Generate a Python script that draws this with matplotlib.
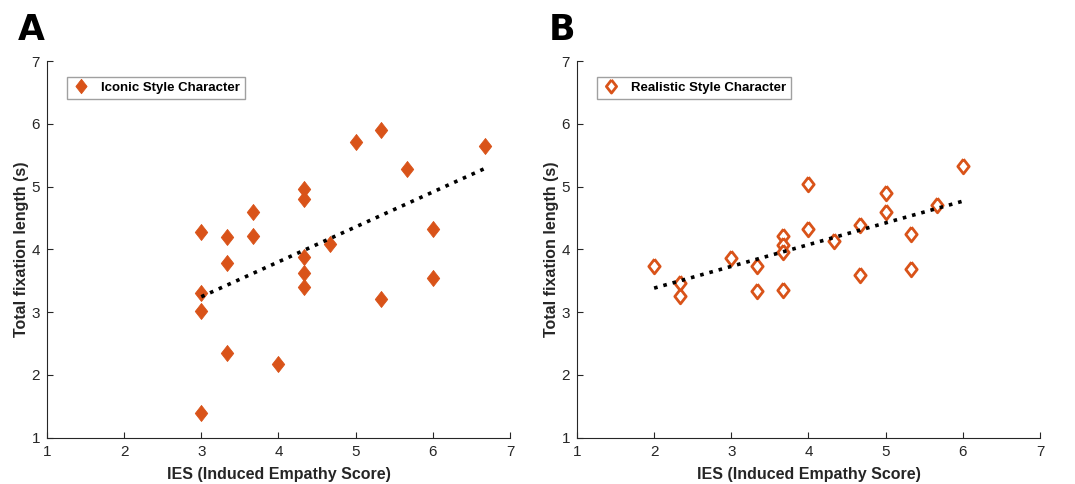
import numpy as np
import matplotlib
matplotlib.use("Agg")
import matplotlib.pyplot as plt

# panel A - iconic style character
iconic_ies = [3, 3, 3, 3, 3.33, 3.33, 3.33, 3.67, 3.67, 4, 4.33, 4.33, 4.33, 4.33, 4.33,
              4.67, 5, 5.33, 5.33, 5.67, 6, 6, 6.67]
iconic_fix = [4.27, 3.30, 3.02, 1.39, 4.20, 3.79, 2.35, 4.60, 4.21, 2.17, 4.97, 4.80, 3.88, 3.63, 3.40,
              4.09, 5.71, 5.91, 3.21, 5.28, 4.33, 3.55, 5.64]

# panel B - realistic style character
real_ies = [2, 2.33, 2.33, 3, 3.33, 3.33, 3.67, 3.67, 3.67, 3.67, 4, 4, 4.33, 4.67, 4.67,
            5, 5, 5.33, 5.33, 5.67, 6]
real_fix = [3.73, 3.47, 3.25, 3.87, 3.73, 3.34, 4.22, 4.07, 3.96, 3.36, 5.04, 4.33, 4.13, 4.39, 3.60,
            4.90, 4.59, 4.24, 3.69, 4.70, 5.33]

ticks = [1, 2, 3, 4, 5, 6, 7]
orange = "#D95319"
diamond = [(0, 1), (0.78, 0), (0, -1), (-0.78, 0), (0, 1)]

plt.rcParams["font.family"] = ["Liberation Sans", "DejaVu Sans"]

fig = plt.figure(figsize=(10.75, 4.84), dpi=100)
ax_a = fig.add_axes([0.0437, 0.0957, 0.4307, 0.778])
ax_b = fig.add_axes([0.5367, 0.0957, 0.4307, 0.778])


def draw_panel(ax, x, y, label, filled):
    if filled:
        ax.plot(x, y, marker=diamond, ms=11.5, color=orange, mec=orange, mew=0.6, lw=0, label=label)
    else:
        ax.plot(x, y, marker=diamond, ms=10.5, mfc="white", mec=orange, mew=2, lw=0, label=label)
    k, b = np.polyfit(x, y, 1)
    xs = np.array([min(x), max(x)])
    ax.plot(xs, k * xs + b, ":", color="black", lw=2.6)
    ax.set_xlim(1, 7)
    ax.set_ylim(1, 7)
    ax.set_xticks(ticks)
    ax.set_yticks(ticks)
    ax.tick_params(direction="in", length=4, labelsize=11, colors="#262626", pad=5)
    for s in ["top", "right"]:
        ax.spines[s].set_visible(False)
    for s in ["left", "bottom"]:
        ax.spines[s].set_color("#262626")
        ax.spines[s].set_linewidth(0.8)
    ax.set_xlabel("IES (Induced Empathy Score)", fontsize=11.5, fontweight="bold", color="#262626", labelpad=6)
    ax.set_ylabel("Total fixation length (s)", fontsize=11.5, fontweight="bold", color="#262626", labelpad=2)
    leg = ax.legend(loc="upper left", bbox_to_anchor=(0.03, 0.975), frameon=True,
                    fancybox=False, edgecolor="#888888", handletextpad=0.9, borderpad=0.35,
                    handlelength=1.3, markerscale=0.9, prop={"weight": "bold", "size": 9.5})
    leg.get_frame().set_linewidth(1.0)


draw_panel(ax_a, iconic_ies, iconic_fix, "Iconic Style Character", True)
draw_panel(ax_b, real_ies, real_fix, "Realistic Style Character", False)

fig.text(0.017, 0.917, "A", fontsize=25, fontweight="bold", va="baseline",
         family=["Liberation Sans Narrow", "DejaVu Sans"])
fig.text(0.510, 0.917, "B", fontsize=25, fontweight="bold", va="baseline",
         family=["Liberation Sans Narrow", "DejaVu Sans"])

fig.savefig("out.png", dpi=100)
